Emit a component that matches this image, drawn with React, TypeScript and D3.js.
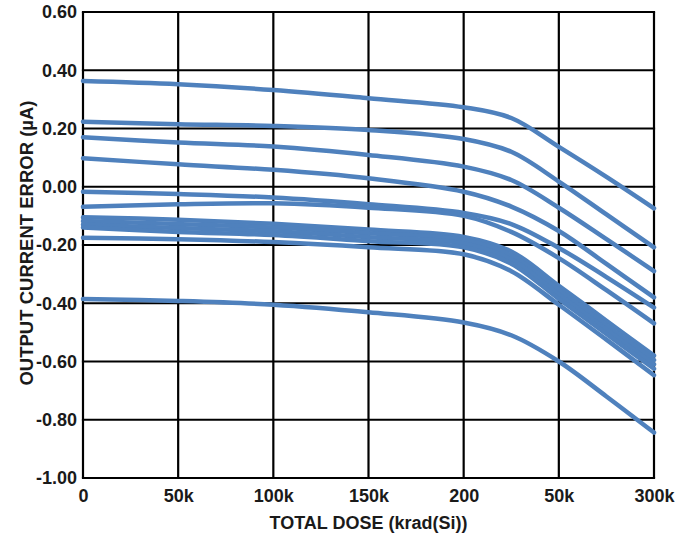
import React, { useEffect, useRef } from 'react'
import * as d3 from 'd3'

// dose points (krad(Si)) where values were read
const doses = [0, 50, 100, 150, 200, 225, 250, 275, 300]

// output current error (uA), one array per device
const dev1 = [0.363, 0.352, 0.332, 0.304, 0.273, 0.236, 0.137, 0.034, -0.074]
const dev2 = [0.223, 0.215, 0.209, 0.195, 0.164, 0.12, 0.018, -0.095, -0.208]
const dev3 = [0.17, 0.152, 0.138, 0.109, 0.069, 0.023, -0.072, -0.18, -0.29]
const dev4 = [0.098, 0.077, 0.058, 0.029, -0.017, -0.068, -0.152, -0.265, -0.38]
const dev5 = [-0.017, -0.025, -0.037, -0.06, -0.09, -0.128, -0.21, -0.31, -0.415]
const dev6 = [-0.069, -0.06, -0.057, -0.072, -0.1, -0.155, -0.245, -0.355, -0.469]
const dev7 = [-0.105, -0.113, -0.127, -0.147, -0.172, -0.222, -0.34, -0.46, -0.58]
const dev8 = [-0.118, -0.128, -0.14, -0.16, -0.183, -0.236, -0.355, -0.476, -0.595]
const dev9 = [-0.13, -0.142, -0.153, -0.173, -0.195, -0.25, -0.37, -0.49, -0.61]
const dev10 = [-0.14, -0.155, -0.166, -0.187, -0.208, -0.264, -0.385, -0.505, -0.625]
const dev11 = [-0.175, -0.18, -0.19, -0.208, -0.232, -0.29, -0.405, -0.525, -0.647]
const dev12 = [-0.385, -0.392, -0.405, -0.431, -0.466, -0.51, -0.6, -0.72, -0.844]

const devices = [dev1, dev2, dev3, dev4, dev5, dev6, dev7, dev8, dev9, dev10, dev11, dev12]

const xTicks = [0, 50, 100, 150, 200, 250, 300]
const xTickLabels = ['0', '50k', '100k', '150k', '200', '50k', '300k']
const yTicks = [-1.0, -0.8, -0.6, -0.4, -0.2, 0.0, 0.2, 0.4, 0.6]

export default function App() {
    const node = useRef<SVGSVGElement>(null)

    useEffect(() => {
        const width = 687,
            height = 538,
            margin = { top: 12, right: 33, bottom: 60, left: 83 }
        const font = '"Liberation Sans", Arial, sans-serif'

        const x = d3.scaleLinear([0, 300], [margin.left, width - margin.right])
        const y = d3.scaleLinear([-1.0, 0.6], [height - margin.bottom, margin.top])

        const svg = d3.select(node.current)
        svg.selectAll('*').remove()
        svg.attr('width', width).attr('height', height)

        // grid
        const grid = svg.append('g').attr('stroke', '#000').attr('stroke-width', 2.2)
        grid.selectAll('line.v')
            .data(xTicks)
            .join('line')
            .attr('class', 'v')
            .attr('x1', d => x(d)).attr('x2', d => x(d))
            .attr('y1', y(0.6)).attr('y2', y(-1.0))
        grid.selectAll('line.h')
            .data(yTicks)
            .join('line')
            .attr('class', 'h')
            .attr('y1', d => y(d)).attr('y2', d => y(d))
            .attr('x1', x(0) - 1.1).attr('x2', x(300) + 1.1)

        // device curves
        const line = d3.line<number>()
            .x((d, i) => x(doses[i]))
            .y(d => y(d))
            .curve(d3.curveCatmullRom.alpha(0.5))
        svg.append('g')
            .selectAll('path')
            .data(devices)
            .join('path')
            .attr('d', d => line(d))
            .attr('fill', 'none')
            .attr('stroke', '#4f81bd')
            .attr('stroke-width', 4.5)
            .attr('stroke-linecap', 'round')

        const tickFmt = (d: number) => d.toFixed(2)

        // axes
        const xAxis = svg.append('g')
            .attr('transform', `translate(0,${y(-1.0)})`)
            .call(d3.axisBottom(x).tickValues(xTicks).tickFormat((d, i) => xTickLabels[i]).tickSize(0).tickPadding(11))
        xAxis.select('.domain').remove()
        xAxis.selectAll('text')
            .attr('font-family', font).attr('font-weight', 'bold').attr('font-size', 18).attr('fill', '#1a1a1a')

        const yAxis = svg.append('g')
            .attr('transform', `translate(${margin.left},0)`)
            .call(d3.axisLeft(y).tickValues(yTicks).tickFormat(d => tickFmt(+d)).tickSize(0).tickPadding(6))
        yAxis.select('.domain').remove()
        yAxis.selectAll('text')
            .attr('font-family', font).attr('font-weight', 'bold').attr('font-size', 18).attr('fill', '#1a1a1a')

        svg.append('text')
            .attr('x', (x(0) + x(300)) / 2)
            .attr('y', 529)
            .attr('text-anchor', 'middle')
            .attr('font-family', font).attr('font-weight', 'bold').attr('font-size', 18).attr('fill', '#1a1a1a')
            .text('TOTAL DOSE (krad(Si))')

        svg.append('text')
            .attr('transform', `translate(33,${(y(0.6) + y(-1.0)) / 2 - 2}) rotate(-90)`)
            .attr('text-anchor', 'middle')
            .attr('font-family', font).attr('font-weight', 'bold').attr('font-size', 18.5).attr('fill', '#1a1a1a')
            .text('OUTPUT CURRENT ERROR (µA)')
    }, [])

    return <svg ref={node} style={{ position: 'absolute', left: 0, top: 0 }} />
}
